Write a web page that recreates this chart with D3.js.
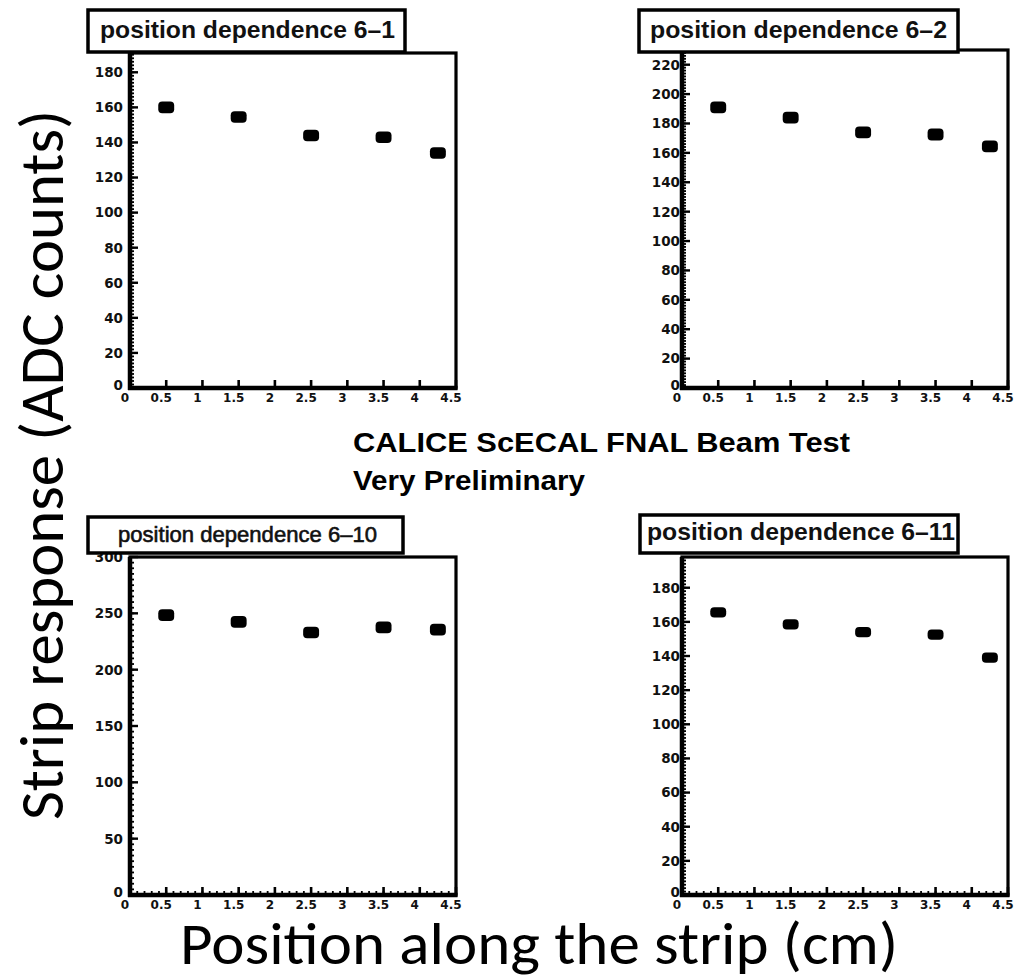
<!DOCTYPE html>
<html>
<head>
<meta charset="utf-8">
<script src="https://cdn.jsdelivr.net/npm/d3@7"></script>
<style>
  body { margin: 0; background: #fff; }
  svg { display: block; }
</style>
</head>
<body>
<div id="chart"></div>
<script>
  // Chart data
  const positions = [0.5, 1.5, 2.5, 3.5, 4.25];
  const panelTitles = ["position dependence 6\u20131", "position dependence 6\u20132",
                       "position dependence 6\u201310", "position dependence 6\u201311"];
  const resp61 = [160, 154.5, 144, 143, 134];
  const resp62 = [191, 184, 174, 172.5, 164.5];
  const resp610 = [248.5, 242.5, 233, 237.5, 235.5];
  const resp611 = [165.5, 158.5, 154, 152.5, 139];
  const respErr = [3.3, 4, 5.2, 3];
  const posErr = 0.11;
  const yMax = [191, 230, 300, 198];
  const yStep = [20, 20, 50, 20];
  const xMax = 4.5;
  const xStep = 0.5;
  const series = [resp61, resp62, resp610, resp611];

  const W = 1023, H = 979;

  // Panel layout (frame, title box, title text)
  const layout = [
    { x0: 130, x1: 456, y0: 53, y1: 388, box: [88, 10, 405, 52], tx: 100, ty: 38, tw: 295, ts: 24, tb: "bold", gap: 7, xMinor: false },
    { x0: 682, x1: 1008, y0: 50, y1: 388, box: [639, 10, 958, 52], tx: 650, ty: 38, tw: 297, ts: 24, tb: "bold", gap: 2, xMinor: false },
    { x0: 130, x1: 456, y0: 557, y1: 895, box: [88, 517, 403, 553], tx: 118, ty: 542, tw: 259, ts: 22, tb: "normal", gap: 7, xMinor: true },
    { x0: 682, x1: 1008, y0: 557, y1: 895, box: [640, 515, 958, 553], tx: 647, ty: 540, tw: 308, ts: 24, tb: "bold", gap: 2, xMinor: true }
  ];

  const svg = d3.select("#chart").append("svg")
    .attr("width", W).attr("height", H);
  svg.append("rect").attr("width", W).attr("height", H).attr("fill", "#fff");

  const tickFont = "'DejaVu Sans', 'Liberation Sans', sans-serif";

  layout.forEach((p, k) => {
    const g = svg.append("g");
    const x = d3.scaleLinear().domain([0, xMax]).range([p.x0, p.x1]);
    const y = d3.scaleLinear().domain([0, yMax[k]]).range([p.y1, p.y0]);

    // y ticks: major + minor (inside the frame)
    const yMajor = d3.range(0, yMax[k] + 1e-9, yStep[k]);
    const yMinor = d3.range(0, yMax[k] + 1e-9, yStep[k] / 10);
    g.selectAll("line.ymin").data(yMinor).join("line")
      .attr("x1", p.x0).attr("x2", p.x0 + 4)
      .attr("y1", d => y(d)).attr("y2", d => y(d))
      .attr("stroke", "#000").attr("stroke-width", 1.8);
    g.selectAll("line.ymaj").data(yMajor).join("line")
      .attr("x1", p.x0).attr("x2", p.x0 + 8)
      .attr("y1", d => y(d)).attr("y2", d => y(d))
      .attr("stroke", "#000").attr("stroke-width", 2.4);
    g.selectAll("text.ylab").data(yMajor).join("text")
      .attr("x", p.x0 - p.gap).attr("y", d => y(d) - (d === 0 ? 3 : 0))
      .attr("dy", "0.36em")
      .attr("text-anchor", "end")
      .attr("font-family", tickFont).attr("font-weight", "bold")
      .attr("font-size", 13.5).attr("fill", "#111")
      .text(d => d);

    // x ticks
    const xMajor = d3.range(0, xMax + 1e-9, xStep);
    if (p.xMinor) {
      const xMinor = d3.range(0, xMax + 1e-9, 0.1);
      g.selectAll("line.xmin").data(xMinor).join("line")
        .attr("x1", d => x(d)).attr("x2", d => x(d))
        .attr("y1", p.y1).attr("y2", p.y1 - 4)
        .attr("stroke", "#000").attr("stroke-width", 1.8);
    }
    g.selectAll("line.xmaj").data(xMajor).join("line")
      .attr("x1", d => x(d)).attr("x2", d => x(d))
      .attr("y1", p.y1).attr("y2", p.y1 - 8)
      .attr("stroke", "#000").attr("stroke-width", 2.6);
    g.selectAll("text.xlab").data(xMajor).join("text")
      .attr("x", d => x(d) - 5).attr("y", p.y1 + 14)
      .attr("text-anchor", "middle")
      .attr("font-family", tickFont).attr("font-weight", "bold")
      .attr("font-size", 12).attr("fill", "#111")
      .text(d => d3.format("~g")(d));

    // frame
    g.append("rect")
      .attr("x", p.x0).attr("y", p.y0)
      .attr("width", p.x1 - p.x0).attr("height", p.y1 - p.y0)
      .attr("fill", "none").attr("stroke", "#000").attr("stroke-width", 3.2);
    g.append("line").attr("x1", p.x0).attr("x2", p.x0).attr("y1", p.y0).attr("y2", p.y1 + 2)
      .attr("stroke", "#000").attr("stroke-width", 4.5);
    g.append("line").attr("x1", p.x0 - 2).attr("x2", p.x1 + 1.5).attr("y1", p.y1).attr("y2", p.y1)
      .attr("stroke", "#000").attr("stroke-width", 4.5);

    // data points with errors
    g.selectAll("rect.pt").data(positions.map((pos, i) => ({ pos, v: series[k][i] }))).join("rect")
      .attr("x", d => x(d.pos - posErr))
      .attr("width", d => x(d.pos + posErr) - x(d.pos - posErr))
      .attr("y", d => y(d.v + respErr[k]))
      .attr("height", d => y(d.v - respErr[k]) - y(d.v + respErr[k]))
      .attr("rx", 4).attr("ry", 4)
      .attr("fill", "#000");

    // title box
    const [bx0, by0, bx1, by1] = p.box;
    g.append("rect")
      .attr("x", bx0).attr("y", by0)
      .attr("width", bx1 - bx0).attr("height", by1 - by0)
      .attr("fill", "#fff").attr("stroke", "#000").attr("stroke-width", 3.5);
    g.append("text")
      .attr("x", p.tx).attr("y", p.ty)
      .attr("font-family", "'Liberation Sans', Arial, sans-serif")
      .attr("font-weight", p.tb)
      .attr("font-size", p.ts)
      .attr("fill", "#111")
      .attr("stroke", p.tb === "normal" ? "#111" : "none")
      .attr("stroke-width", 0.6)
      .attr("textLength", p.tw).attr("lengthAdjust", "spacingAndGlyphs")
      .text(panelTitles[k]);
  });

  // central annotation
  svg.append("text")
    .attr("x", 353).attr("y", 452)
    .attr("font-family", "'Liberation Sans', Arial, sans-serif")
    .attr("font-weight", "bold").attr("font-size", 28)
    .attr("textLength", 497).attr("lengthAdjust", "spacingAndGlyphs")
    .text("CALICE ScECAL FNAL Beam Test");
  svg.append("text")
    .attr("x", 353).attr("y", 490)
    .attr("font-family", "'Liberation Sans', Arial, sans-serif")
    .attr("font-weight", "bold").attr("font-size", 28)
    .attr("textLength", 232).attr("lengthAdjust", "spacingAndGlyphs")
    .text("Very Preliminary");

  // big axis titles
  svg.append("text")
    .attr("x", 180).attr("y", 964)
    .attr("font-family", "Carlito, Calibri, Lato, 'Open Sans', sans-serif")
    .attr("font-size", 60)
    .attr("textLength", 718).attr("lengthAdjust", "spacingAndGlyphs")
    .text("Position along the strip (cm)");
  svg.append("text")
    .attr("transform", "translate(63,820) rotate(-90)")
    .attr("font-family", "Carlito, Calibri, Lato, 'Open Sans', sans-serif")
    .attr("font-size", 62)
    .attr("textLength", 710).attr("lengthAdjust", "spacingAndGlyphs")
    .text("Strip response (ADC counts)");
</script>
</body>
</html>
